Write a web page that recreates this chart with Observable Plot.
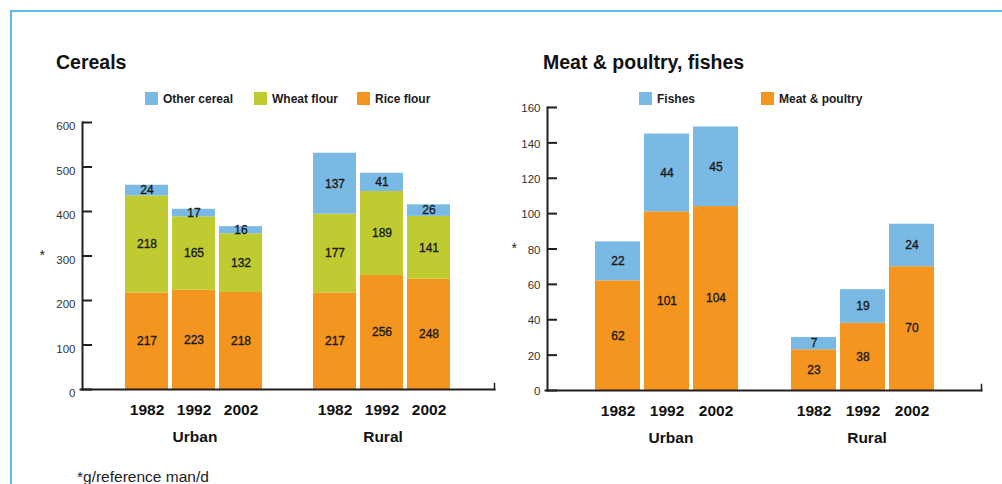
<!DOCTYPE html>
<html>
<head>
<meta charset="utf-8">
<script src="https://cdn.jsdelivr.net/npm/d3@7"></script>
<script src="https://cdn.jsdelivr.net/npm/@observablehq/plot@0.6"></script>
<style>
  body { margin: 0; background: #fff; font-family: "Liberation Sans", Arial, Helvetica, sans-serif; }
  #page { position: relative; width: 1002px; height: 484px; overflow: hidden; background: #fff; }
  .border { position: absolute; left: 10px; top: 10px; width: 1100px; height: 600px;
            border-top: 2.5px solid #5db8ea; border-left: 2.5px solid #5db8ea; }
  .title { position: absolute; top: 53px; font-size: 19.5px; font-weight: bold; line-height: 1; color: #111; white-space: nowrap; }
  .item { position: absolute; top: 92px; height: 13px; display: flex; align-items: center;
          font-size: 12px; font-weight: bold; color: #1a1a1a; white-space: nowrap; }
  .item i { display: inline-block; width: 13px; height: 13px; margin-right: 5px; }
  .note { position: absolute; left: 77px; top: 469px; font-size: 15.5px; line-height: 1; color: #222; white-space: nowrap; }
  .panel { position: absolute; top: 0; }
</style>
</head>
<body>
<div id="page">
  <div class="border"></div>
  <div class="title" style="left:56px">Cereals</div>
  <div class="title" style="left:543px">Meat &amp; poultry, fishes</div>
  <div class="note">*g/reference man/d</div>
</div>
<script>
// Survey years and areas
const years = ["1982", "1992", "2002"];
const groups = ["Urban", "Rural"];

// Cereals intake (g/reference man/d), by area, in year order
const riceFlour   = { Urban: [217, 223, 218], Rural: [217, 256, 248] };
const wheatFlour  = { Urban: [218, 165, 132], Rural: [177, 189, 141] };
const otherCereal = { Urban: [24, 17, 16],    Rural: [137, 41, 26] };
const cerealTicks = [0, 100, 200, 300, 400, 500, 600];

// Meat & poultry, fishes intake (g/reference man/d)
const meatPoultry = { Urban: [62, 101, 104], Rural: [23, 38, 70] };
const fishes      = { Urban: [22, 44, 45],   Rural: [7, 19, 24] };
const meatTicks = [0, 20, 40, 60, 80, 100, 120, 140, 160];

const BLUE = "#7ab9e3", GREEN = "#bfcb30", ORANGE = "#f4951f", INK = "#231f20";
const FONT = "'Liberation Sans', Arial, Helvetica, sans-serif";

// Band domain: one slot per group/year, with an empty slot between the two groups
const SPACER = " ";
const keys = [...years.map(y => "Urban " + y), SPACER, ...years.map(y => "Rural " + y)];
const realKeys = keys.filter(k => k !== SPACER);

// Long-format rows, bottom segment first so the stack order follows the series order
function rows(series) {
  const out = [];
  for (const g of groups) years.forEach((yr, i) => {
    for (const s of series) out.push({ key: g + " " + yr, part: s.name, value: s.values[g][i] });
  });
  return out;
}

function panel({ data, series, yMax, ticks, width, height, left, x0, x1, yTop, yZero,
                 padIn, padOut, labelDy, starDx, groupDx }) {
  const plotW = x1 - x0;
  const plotH = yZero - yTop;
  const chart = Plot.plot({
    width, height,
    marginLeft: x0 - left, marginRight: left + width - x1,
    marginTop: yTop, marginBottom: height - yZero,
    style: { fontFamily: FONT, overflow: "visible", background: "transparent" },
    x: { domain: keys, paddingInner: padIn, paddingOuter: padOut, axis: null },
    y: { domain: [0, yMax], axis: null },
    color: { domain: series.map(s => s.name), range: series.map(s => s.color) },
    marks: [
      Plot.barY(data, { x: "key", y: "value", z: "part", fill: "part" }),
      Plot.text(data, Plot.stackY({ x: "key", y: "value", z: "part", text: d => String(d.value),
        fontSize: 12, fill: "#1a1a1a", stroke: "#1a1a1a", strokeWidth: 0.35 })),
      // y axis: labels, inward ticks and spine
      Plot.axisY({ ticks, tickSize: 0, tickPadding: 7, dy: labelDy, fontSize: 11.5, fill: "#333",
        tickFormat: d => String(d), label: null }),
      Plot.ruleY(ticks, { insetRight: plotW - 10, stroke: INK, strokeWidth: 2 }),
      Plot.frame({ anchor: "left", stroke: INK, strokeWidth: 2 }),
      Plot.frame({ anchor: "bottom", insetLeft: -2, stroke: INK, strokeWidth: 2 }),
      Plot.frame({ anchor: "right", insetTop: plotH - 6, stroke: INK, strokeWidth: 1.5 }),
      // year and area labels
      Plot.axisX({ ticks: realKeys, tickFormat: k => k.split(" ")[1], tickSize: 0, tickPadding: 14,
        fontSize: 15.5, fontWeight: "bold", fill: "#111", label: null }),
      Plot.text(groups, { x: g => g + " 1992", text: g => g, frameAnchor: "bottom", dy: 52, dx: groupDx,
        fontSize: 15.5, fontWeight: "bold", fill: "#111" }),
      Plot.text(["*"], { text: d => d, frameAnchor: "left", dx: starDx, dy: 0, fontSize: 14, fill: "#222" })
    ]
  });
  chart.classList.add("panel");
  chart.style.left = left + "px";
  document.getElementById("page").appendChild(chart);
}

function legend(series, lefts) {
  series.forEach((s, i) => {
    const el = document.createElement("div");
    el.className = "item";
    el.style.left = lefts[i] + "px";
    el.innerHTML = `<i style="background:${s.color}"></i>`;
    el.appendChild(document.createTextNode(s.name));
    document.getElementById("page").appendChild(el);
  });
}

// Cereals panel
const cerealSeries = [
  { name: "Rice flour", values: riceFlour, color: ORANGE },
  { name: "Wheat flour", values: wheatFlour, color: GREEN },
  { name: "Other cereal", values: otherCereal, color: BLUE }
];
panel({ data: rows(cerealSeries), series: cerealSeries, yMax: 600, ticks: cerealTicks,
  width: 500, height: 460, left: 0, x0: 82, x1: 494, yTop: 122, yZero: 389,
  padIn: 0.085, padOut: 0.91, labelDy: 4, starDx: -43, groupDx: 1 });
legend([cerealSeries[2], cerealSeries[1], cerealSeries[0]], [145, 254, 357]);

// Meat & poultry, fishes panel
const meatSeries = [
  { name: "Meat & poultry", values: meatPoultry, color: ORANGE },
  { name: "Fishes", values: fishes, color: BLUE }
];
panel({ data: rows(meatSeries), series: meatSeries, yMax: 160, ticks: meatTicks,
  width: 502, height: 460, left: 500, x0: 547, x1: 981, yTop: 107, yZero: 390,
  padIn: 0.091, padOut: 0.929, labelDy: 1, starDx: -36, groupDx: 4 });
legend([meatSeries[1], meatSeries[0]], [639, 761]);
</script>
</body>
</html>
